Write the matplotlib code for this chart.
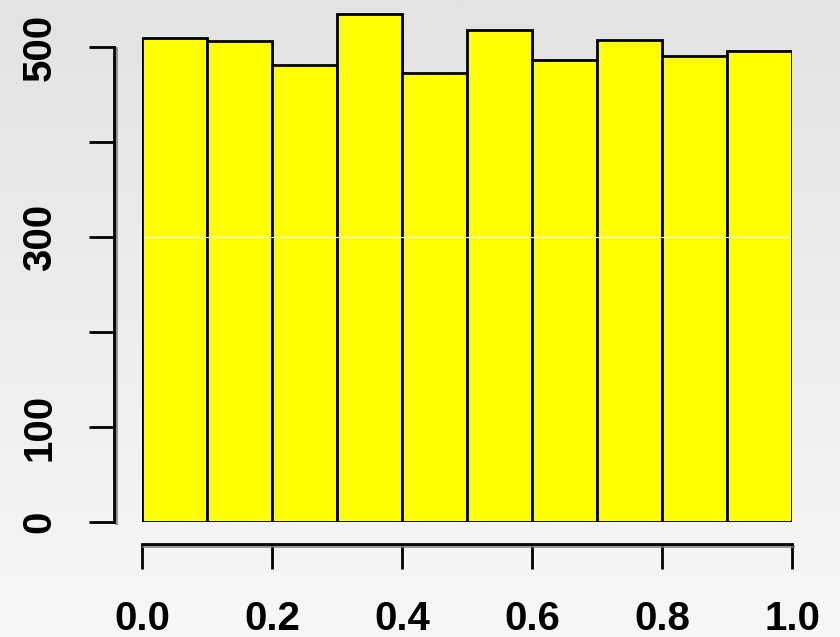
import numpy as np
import matplotlib
matplotlib.use("Agg")
import matplotlib.pyplot as plt
import matplotlib.patheffects as pe

# Histogram of uniform draws: ten bins over [0, 1]
bin_edges = [0.0, 0.1, 0.2, 0.3, 0.4, 0.5, 0.6, 0.7, 0.8, 0.9, 1.0]
counts = [510, 506, 481, 535, 473, 518, 486, 507, 491, 496]

x_ticks = [0.0, 0.2, 0.4, 0.6, 0.8, 1.0]
x_tick_labels = ["0.0", "0.2", "0.4", "0.6", "0.8", "1.0"]
y_ticks = [0, 100, 200, 300, 400, 500]
y_tick_labels = ["0", "100", "", "300", "", "500"]

W, H, DPI = 840, 637, 100
fig = plt.figure(figsize=(W / DPI, H / DPI), dpi=DPI)

# soft vertical grey gradient behind everything
bg = fig.add_axes([0, 0, 1, 1], zorder=-10)
grad = np.linspace(0, 1, 256).reshape(-1, 1)
bg.imshow(grad, aspect="auto", cmap=matplotlib.colors.LinearSegmentedColormap.from_list(
    "bg", ["#e3e3e3", "#f7f7f7"]), extent=[0, 1, 0, 1], origin="upper")
bg.set_axis_off()

# plot region in pixels: x 142..792, y(0)=522 px from top, 0.95 px per count
left, right = 142, 792
y0_px, top_px = 522, 5
ppu = 0.95
ax = fig.add_axes([left / W, (H - y0_px) / H, (right - left) / W, (y0_px - top_px) / H])
ax.set_facecolor("none")
ax.set_xlim(0, 1)
ax.set_ylim(0, (y0_px - top_px) / ppu)

lw = 2.0
lefts = bin_edges[:-1]
widths = np.diff(bin_edges)
bars = ax.bar(lefts, counts, width=widths, align="edge", color="#ffff00",
              edgecolor="black", linewidth=lw, zorder=3)
for b in bars:
    b.set_path_effects([pe.SimplePatchShadow(offset=(1.5, -1.5), shadow_rgbFace="#777777", alpha=0.8),
                        pe.Normal()])

# faint light line crossing the bars at 300
ax.hlines(300, bin_edges[0] + 0.004, bin_edges[-1] - 0.004, colors="white", linewidth=0.9, zorder=4)

for s in ["top", "right"]:
    ax.spines[s].set_visible(False)
ax.spines["left"].set_position(("outward", 20))
ax.spines["bottom"].set_position(("outward", 16))
ax.spines["left"].set_bounds(0, 500)
ax.spines["bottom"].set_bounds(0, 1)
for s in ["left", "bottom"]:
    ax.spines[s].set_linewidth(lw)
    ax.spines[s].set_path_effects([pe.SimpleLineShadow(offset=(1, -1), shadow_color="#777777", alpha=0.8),
                                   pe.Normal()])

font = dict(family=["Liberation Sans", "DejaVu Sans"], weight="bold", size=29)
ax.set_xticks(x_ticks)
ax.set_xticklabels(x_tick_labels, **font)
ax.set_yticks(y_ticks)
ax.set_yticklabels(y_tick_labels, rotation=90, va="center", **font)
ax.tick_params(axis="both", length=18, width=lw, color="black")
ax.tick_params(axis="x", pad=22)
ax.tick_params(axis="y", pad=22)

fig.savefig("out.png", dpi=DPI)
